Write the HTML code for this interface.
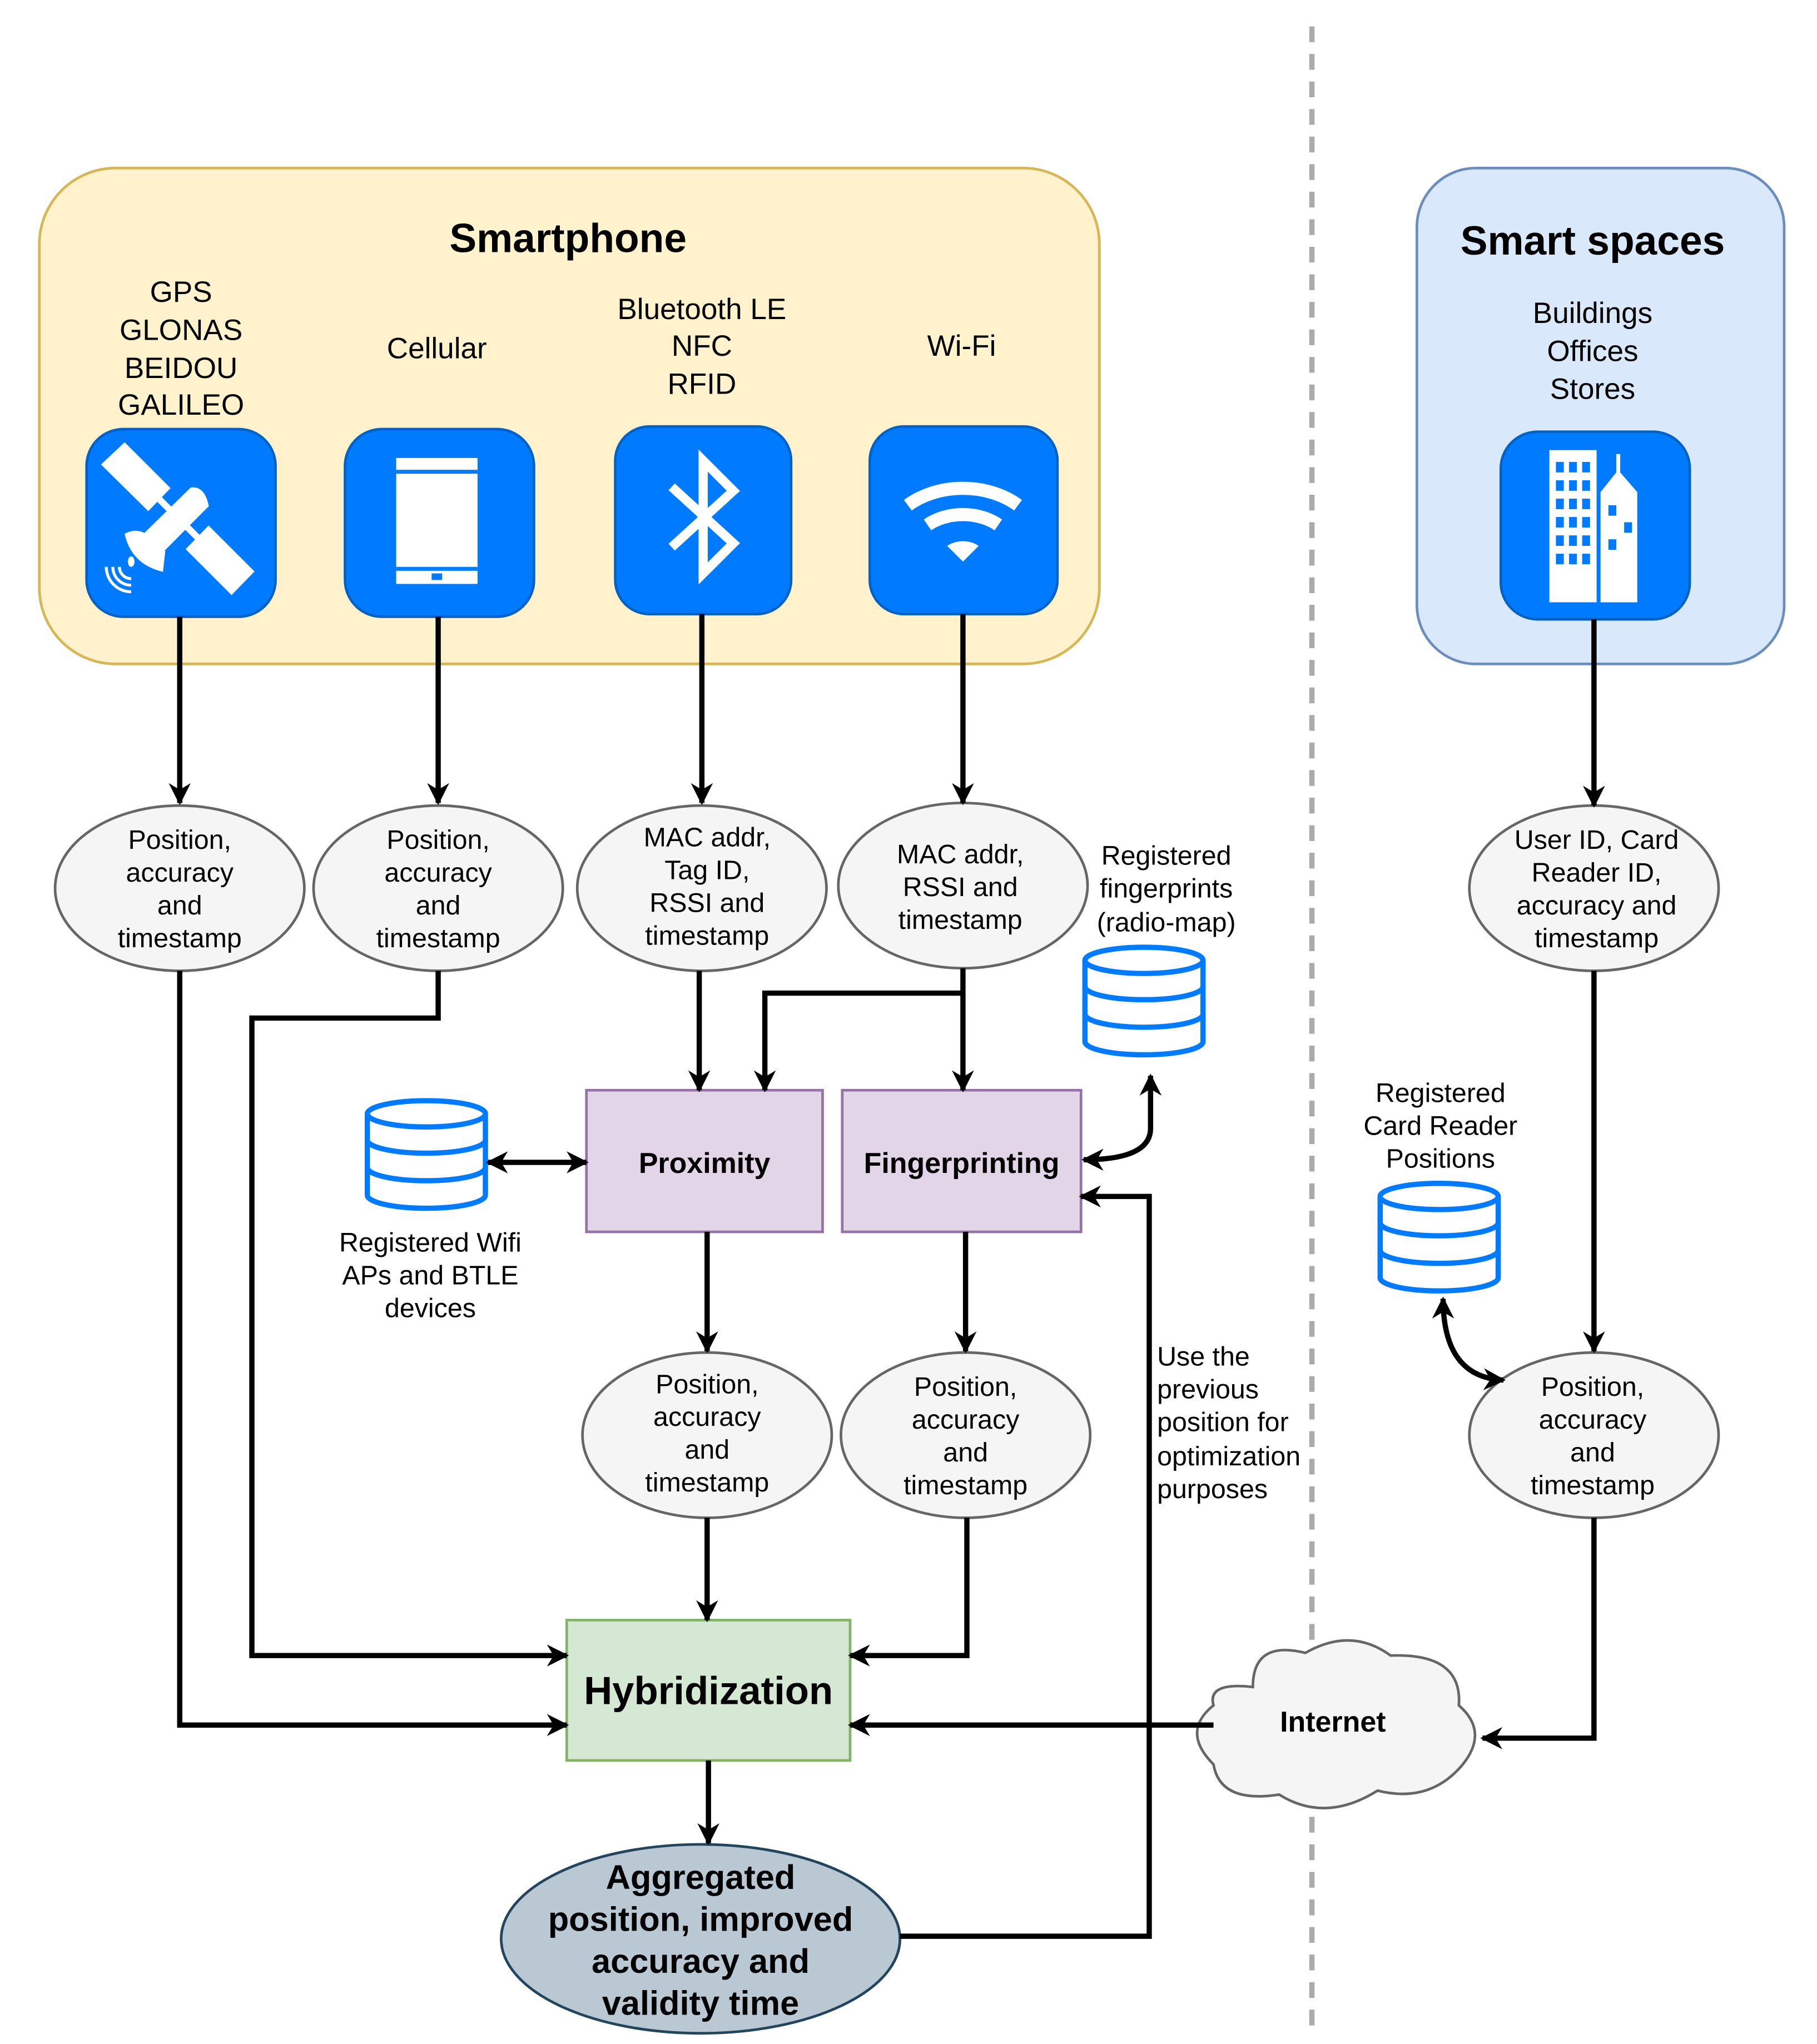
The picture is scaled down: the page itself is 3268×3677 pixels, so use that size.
<!DOCTYPE html>
<html><head><meta charset="utf-8"><style>html,body{margin:0;padding:0;background:#fff}svg{display:block}</style></head>
<body>
<svg width="3268" height="3677" viewBox="0 0 1385 1558" xmlns="http://www.w3.org/2000/svg" font-family="Liberation Sans, Arial, sans-serif">
<defs>
<marker id="a" viewBox="0 0 10 10" refX="9" refY="5" markerWidth="4.2" markerHeight="4.2" orient="auto-start-reverse" markerUnits="strokeWidth">
<path d="M0,0 L10,5 L0,10 L3,5 Z" fill="#000"/></marker>
<g id="db"><g fill="#fff" stroke="#007bff" stroke-width="4">
<path d="M0,10 v62 a45,10 0 0 0 90,0 v-62"/>
<ellipse cx="45" cy="10" rx="45" ry="10"/>
<path d="M0,30 a45,10 0 0 0 90,0 M0,51 a45,10 0 0 0 90,0" fill="none"/></g></g>
</defs>
<rect width="1385" height="1558" fill="#fff"/>
<line x1="1000" y1="20" x2="1000" y2="1552" stroke="#aaa" stroke-width="4" stroke-dasharray="12 9"/>
<rect x="30" y="128" width="808" height="378" rx="58" fill="#fff2cc" stroke="#d6b656" stroke-width="2"/>
<rect x="1080" y="128" width="280" height="378" rx="45" fill="#dae8fc" stroke="#6c8ebf" stroke-width="2"/>
<g font-weight="bold" font-size="31" text-anchor="middle"><text x="433" y="192">Smartphone</text><text x="1214" y="194">Smart spaces</text></g>
<g font-size="22.5" text-anchor="middle">
<text x="138" y="230">GPS</text><text x="138" y="259">GLONAS</text><text x="138" y="288">BEIDOU</text><text x="138" y="316">GALILEO</text>
<text x="333" y="273">Cellular</text>
<text x="535" y="243">Bluetooth LE</text><text x="535" y="271">NFC</text><text x="535" y="300">RFID</text>
<text x="733" y="271">Wi-Fi</text>
<text x="1214" y="246">Buildings</text><text x="1214" y="275">Offices</text><text x="1214" y="304">Stores</text>
</g>
<g fill="#007bff" stroke="#0062c4" stroke-width="2">
<rect x="66" y="327" width="144" height="143" rx="28"/>
<rect x="263" y="327" width="144" height="143" rx="28"/>
<rect x="469" y="325" width="134" height="143" rx="26"/>
<rect x="663" y="325" width="143" height="143" rx="26"/>
<rect x="1144" y="329" width="144" height="143" rx="28"/>
</g>
<!-- satellite -->
<g fill="#fff">
<line x1="104" y1="363" x2="168" y2="427" stroke="#fff" stroke-width="5"/>
<polygon points="95,337 77,354 113,389.5 130,372"/>
<polygon points="159,400.5 141.5,418.5 176.5,453.5 194,435.5"/>
<path d="M145.4,371.5 Q156,370 159.2,385.7 L124.6,420.5 L110.2,406 Z"/>
<path d="M95,406.8 Q103,402 112,407 L126,420 L124.2,435.8 Q100,430 95,406.8 Z"/>
<ellipse cx="100" cy="428" rx="2.5" ry="4"/>
<path d="M81,432 A19,19 0 0 0 100,451 M86,432 A14,14 0 0 0 100,446 M91,432 A9,9 0 0 0 100,441" fill="none" stroke="#fff" stroke-width="2.2"/>
</g>
<!-- phone -->
<rect x="302" y="349" width="62" height="96" fill="#fff"/>
<rect x="302" y="358" width="62" height="3" fill="#007bff"/><rect x="302" y="432" width="62" height="3" fill="#007bff"/><rect x="329" y="437" width="8" height="5" fill="#007bff"/>
<!-- bluetooth -->
<path d="M512,371 L559,414 L536,437 L536,351 L559,374 L512,417" fill="none" stroke="#fff" stroke-width="7" stroke-linejoin="miter"/>
<!-- wifi -->
<g fill="none" stroke="#fff" stroke-width="10">
<path d="M692,385 a60,45 0 0 1 84,0"/><path d="M707,400 a40,30 0 0 1 54,0"/></g>
<path d="M722,416 a18,14 0 0 1 24,0 L734,428 Z" fill="#fff"/>
<!-- building -->
<g fill="#fff"><rect x="1181" y="343" width="36" height="116"/><path d="M1220,459 V375 L1232,360 V346 h3 V360 L1248,375 V459 Z"/></g>
<g fill="#007bff">
<rect x="1186" y="352" width="6" height="8"/><rect x="1196" y="352" width="6" height="8"/><rect x="1206" y="352" width="6" height="8"/>
<rect x="1186" y="366" width="6" height="8"/><rect x="1196" y="366" width="6" height="8"/><rect x="1206" y="366" width="6" height="8"/>
<rect x="1186" y="380" width="6" height="8"/><rect x="1196" y="380" width="6" height="8"/><rect x="1206" y="380" width="6" height="8"/>
<rect x="1186" y="394" width="6" height="8"/><rect x="1196" y="394" width="6" height="8"/><rect x="1206" y="394" width="6" height="8"/>
<rect x="1186" y="408" width="6" height="8"/><rect x="1196" y="408" width="6" height="8"/><rect x="1206" y="408" width="6" height="8"/>
<rect x="1186" y="422" width="6" height="8"/><rect x="1196" y="422" width="6" height="8"/><rect x="1206" y="422" width="6" height="8"/>
<rect x="1226" y="385" width="6" height="8"/><rect x="1238" y="398" width="6" height="8"/><rect x="1226" y="411" width="6" height="8"/>
</g>
<!-- ellipses -->
<g fill="#f5f5f5" stroke="#666" stroke-width="2">
<ellipse cx="137" cy="677" rx="95" ry="63"/><ellipse cx="334" cy="677" rx="95" ry="63"/>
<ellipse cx="535" cy="677" rx="95" ry="63"/><ellipse cx="734" cy="675" rx="95" ry="63"/>
<ellipse cx="1215" cy="677" rx="95" ry="63"/>
<ellipse cx="539" cy="1094" rx="95" ry="63"/><ellipse cx="736" cy="1094" rx="95" ry="63"/>
<ellipse cx="1215" cy="1094" rx="95" ry="63"/>
</g>
<g font-size="20.5" text-anchor="middle">
<text x="137" y="647">Position,</text><text x="137" y="672">accuracy</text><text x="137" y="697">and</text><text x="137" y="722">timestamp</text>
<text x="334" y="647">Position,</text><text x="334" y="672">accuracy</text><text x="334" y="697">and</text><text x="334" y="722">timestamp</text>
<text x="539" y="645">MAC addr,</text><text x="539" y="670">Tag ID,</text><text x="539" y="695">RSSI and</text><text x="539" y="720">timestamp</text>
<text x="732" y="658">MAC addr,</text><text x="732" y="683">RSSI and</text><text x="732" y="708">timestamp</text>
<text x="1217" y="647">User ID, Card</text><text x="1217" y="672">Reader ID,</text><text x="1217" y="697">accuracy and</text><text x="1217" y="722">timestamp</text>
<text x="539" y="1062">Position,</text><text x="539" y="1087">accuracy</text><text x="539" y="1112">and</text><text x="539" y="1137">timestamp</text>
<text x="736" y="1064">Position,</text><text x="736" y="1089">accuracy</text><text x="736" y="1114">and</text><text x="736" y="1139">timestamp</text>
<text x="1214" y="1064">Position,</text><text x="1214" y="1089">accuracy</text><text x="1214" y="1114">and</text><text x="1214" y="1139">timestamp</text>
<text x="889" y="659">Registered</text><text x="889" y="684">fingerprints</text><text x="889" y="710">(radio-map)</text>
<text x="328" y="954">Registered Wifi</text><text x="328" y="979">APs and BTLE</text><text x="328" y="1004">devices</text>
<text x="1098" y="840">Registered</text><text x="1098" y="865">Card Reader</text><text x="1098" y="890">Positions</text>
</g>
<g font-size="20.5"><text x="882" y="1041">Use the</text><text x="882" y="1066">previous</text><text x="882" y="1091">position for</text><text x="882" y="1117">optimization</text><text x="882" y="1142">purposes</text></g>
<use href="#db" x="827" y="722"/><use href="#db" x="280" y="839"/><use href="#db" x="1052" y="902"/>
<rect x="447" y="831" width="180" height="108" fill="#e1d5e7" stroke="#9673a6" stroke-width="2"/>
<rect x="642" y="831" width="182" height="108" fill="#e1d5e7" stroke="#9673a6" stroke-width="2"/>
<rect x="432" y="1235" width="216" height="107" fill="#d5e8d4" stroke="#82b366" stroke-width="2"/>
<ellipse cx="534" cy="1478" rx="152" ry="72" fill="#bac8d3" stroke="#23445d" stroke-width="2"/>
<path d="M955,1286 Q955,1250 995,1260 Q1030,1240 1060,1262 Q1115,1260 1112,1300 Q1135,1320 1115,1345 Q1090,1375 1050,1365 Q1010,1390 975,1368 Q930,1375 925,1345 Q900,1320 925,1300 Q920,1282 955,1286 Z" fill="#f5f5f5" stroke="#666" stroke-width="2"/>
<g font-weight="bold" text-anchor="middle">
<text x="537" y="894" font-size="22">Proximity</text><text x="733" y="894" font-size="22">Fingerprinting</text>
<text x="540" y="1299" font-size="30">Hybridization</text>
<text x="1016" y="1320" font-size="22">Internet</text>
<g font-size="26"><text x="534" y="1440">Aggregated</text><text x="534" y="1472">position, improved</text><text x="534" y="1504">accuracy and</text><text x="534" y="1536">validity time</text></g>
</g>
<g fill="none" stroke="#000" stroke-width="4" marker-end="url(#a)">
<path d="M137,470 V612"/><path d="M334,470 V612"/><path d="M535,468 V612"/><path d="M734,468 V612"/><path d="M1215,472 V614"/>
<path d="M533,740 V831"/><path d="M734,738 V831"/><path d="M734,757 H583 V831"/>
<path d="M539,939 V1030"/><path d="M736,939 V1030"/><path d="M1215,740 V1030"/>
<path d="M539,1157 V1235"/><path d="M737,1157 V1262 H648"/>
<path d="M334,740 V776 H192 V1262 H432"/><path d="M137,740 V1315 H432"/>
<path d="M925,1315 H648"/><path d="M1215,1157 V1325 H1130"/>
<path d="M540,1342 V1405"/>
<path d="M686,1476 H876 V912 H824"/>
<path d="M372,886 H447" marker-start="url(#a)"/>
<path d="M826,884 Q877,884 877,860 V820" marker-start="url(#a)"/>
<path d="M1100,990 Q1100,1050 1146,1052" marker-start="url(#a)"/>
</g>
</svg>
</body></html>
